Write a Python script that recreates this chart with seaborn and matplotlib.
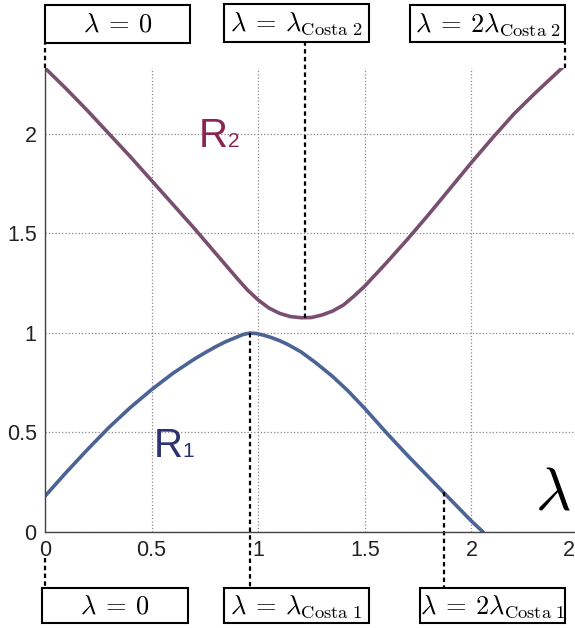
import numpy as np
import pandas as pd
import matplotlib
matplotlib.use("Agg")
import matplotlib.pyplot as plt
import matplotlib.transforms as mtransforms
from matplotlib.patches import Rectangle
import seaborn as sns

# ---- data ----
r1_x = [0.0, 0.1, 0.2, 0.3, 0.4, 0.5, 0.6, 0.7, 0.75, 0.8, 0.85, 0.9, 0.93, 0.96,
        0.99, 1.02, 1.06, 1.1, 1.14, 1.2, 1.27, 1.35, 1.42, 1.5, 1.6, 1.7, 1.8,
        1.9, 2.0, 2.055]
r1_y = [0.18, 0.30, 0.415, 0.525, 0.625, 0.715, 0.797, 0.868, 0.9, 0.93,
        0.957, 0.979, 0.992, 0.999, 0.997, 0.99, 0.977, 0.961, 0.941, 0.905,
        0.85, 0.78, 0.71, 0.62, 0.50, 0.385, 0.275, 0.165, 0.055, 0.0]
r2_x = [0.0, 0.1, 0.2, 0.3, 0.4, 0.5, 0.6, 0.7, 0.8, 0.9, 0.95, 1.0, 1.05, 1.1,
        1.15, 1.2, 1.25, 1.3, 1.35, 1.4, 1.45, 1.5, 1.6, 1.7, 1.8, 1.9, 2.0,
        2.1, 2.2, 2.3, 2.44]
r2_y = [2.33, 2.225, 2.115, 2.0, 1.885, 1.765, 1.645, 1.525, 1.40, 1.275, 1.215,
        1.165, 1.125, 1.098, 1.082, 1.076, 1.077, 1.09, 1.11, 1.14, 1.185, 1.235,
        1.35, 1.47, 1.595, 1.725, 1.855, 1.98, 2.10, 2.205, 2.345]
x_ticks = [0, 0.5, 1, 1.5, 2, 2.5]
x_tick_labels = ["0", "0.5", "1", "1.5", "2", "2.5"]
y_ticks = [0, 0.5, 1, 1.5, 2]
y_tick_labels = ["0", "0.5", "1", "1.5", "2"]
lam_costa1 = 0.96
lam_costa1_y = 1.0
lam2_costa1 = 1.87
lam2_costa1_y = 0.20
lam_costa2 = 1.22
lam_costa2_y = 1.076
lam2_costa2 = 2.44
lam2_costa2_y = 2.345
top_labels = [r"$\lambda\:=\:0$", r"$\lambda\:=\:\lambda_{\mathrm{Costa\ 2}}$",
              r"$\lambda\:=\:2\lambda_{\mathrm{Costa\ 2}}$"]
bottom_labels = [r"$\lambda\:=\:0$", r"$\lambda\:=\:\lambda_{\mathrm{Costa\ 1}}$",
                 r"$\lambda\:=\:2\lambda_{\mathrm{Costa\ 1}}$"]

df = pd.concat([
    pd.DataFrame({"x": r1_x, "y": r1_y, "curve": "R1"}),
    pd.DataFrame({"x": r2_x, "y": r2_y, "curve": "R2"}),
])

sns.set_theme(style="white")
plt.rcParams["font.family"] = ["Liberation Sans", "DejaVu Sans"]
plt.rcParams["mathtext.fontset"] = "cm"

W, H = 575, 628
fig = plt.figure(figsize=(W / 100, H / 100), dpi=100)
fig.patch.set_facecolor("white")

ax_l, ax_r, ax_t, ax_b = 45, 578, 68, 532
ax = fig.add_axes([ax_l / W, 1 - ax_b / H, (ax_r - ax_l) / W, (ax_b - ax_t) / H])
ax.set_facecolor("white")

sns.lineplot(data=df, x="x", y="y", hue="curve", estimator=None, sort=False,
             palette={"R1": "#4b6395", "R2": "#7a4e70"}, linewidth=2.6,
             legend=False, ax=ax)

ax.set_xlim(0, 2.5)
ax.set_ylim(0, 2.33)
ax.set_xticks(x_ticks)
ax.set_xticklabels(x_tick_labels)
ax.set_yticks(y_ticks)
ax.set_yticklabels(y_tick_labels)
ax.set_xlabel("")
ax.set_ylabel("")
ax.tick_params(direction="in", length=4, width=0.8, colors="#333333",
               labelsize=15.5, labelcolor="#222222", pad=6)
ax.grid(True, linestyle=":", color="#888888", linewidth=0.9)
for s in ["top", "right"]:
    ax.spines[s].set_visible(False)
for s in ["left", "bottom"]:
    ax.spines[s].set_color("#444444")
    ax.spines[s].set_linewidth(1.0)

# connector dashed lines (x in data, y in axes fraction)
tr = ax.get_xaxis_transform()
ymax = 2.33
top_y = (ax_b - 43) / (ax_b - ax_t)
bot_y = (ax_b - 588) / (ax_b - ax_t)
conn = dict(color="black", linestyle=(0, (2.0, 1.5)), linewidth=1.6,
            clip_on=False, transform=tr)
ax.plot([0, 0], [1.0, top_y], **conn)
ax.plot([lam_costa2, lam_costa2], [lam_costa2_y / ymax, top_y], **conn)
ax.plot([lam2_costa2, lam2_costa2], [min(lam2_costa2_y / ymax, 1.0), top_y], **conn)
ax.plot([0, 0], [(ax_b - 558) / (ax_b - ax_t), bot_y], **conn)
ax.plot([lam_costa1, lam_costa1], [lam_costa1_y / ymax, bot_y], **conn)
ax.plot([lam2_costa1, lam2_costa1], [lam2_costa1_y / ymax, bot_y], **conn)

# boxes (pixel layout)
def box(x0, x1, y0, y1, label):
    fig.add_artist(Rectangle((x0 / W, 1 - y1 / H), (x1 - x0) / W, (y1 - y0) / H,
                             transform=fig.transFigure, facecolor="white",
                             edgecolor="black", linewidth=1.5))
    fig.text((x0 + x1) / 2 / W, 1 - ((y0 + y1) / 2 + 1) / H, label,
             ha="center", va="center", fontsize=19, color="black")

top_boxes = [(45, 190, 5, 43), (224, 369, 4, 42), (410, 565, 5, 42)]
bot_boxes = [(42, 188, 588, 623), (224, 369, 588, 623), (420, 565, 588, 623)]
for (x0, x1, y0, y1), lab in zip(top_boxes, top_labels):
    box(x0, x1, y0, y1, lab)
for (x0, x1, y0, y1), lab in zip(bot_boxes, bottom_labels):
    box(x0, x1, y0, y1, lab)

# curve labels
def rlabel(x, y, digit, color):
    ax.text(x, y, "R", fontsize=29, color=color, ha="left", va="baseline",
            family=["Liberation Sans"])
    off = mtransforms.offset_copy(ax.transData, fig=fig, x=29, y=0, units="dots")
    ax.text(x, y, digit, fontsize=15, color=color, ha="left", va="baseline",
            transform=off, family=["Liberation Sans"])

rlabel(0.72, 1.935, "2", "#8a2553")
rlabel(0.51, 0.377, "1", "#2c316f")

fig.text(553 / W, 1 - 510 / H, r"$\lambda$", fontsize=44, ha="center",
         va="baseline", color="black")

fig.savefig("out.png", dpi=100)
